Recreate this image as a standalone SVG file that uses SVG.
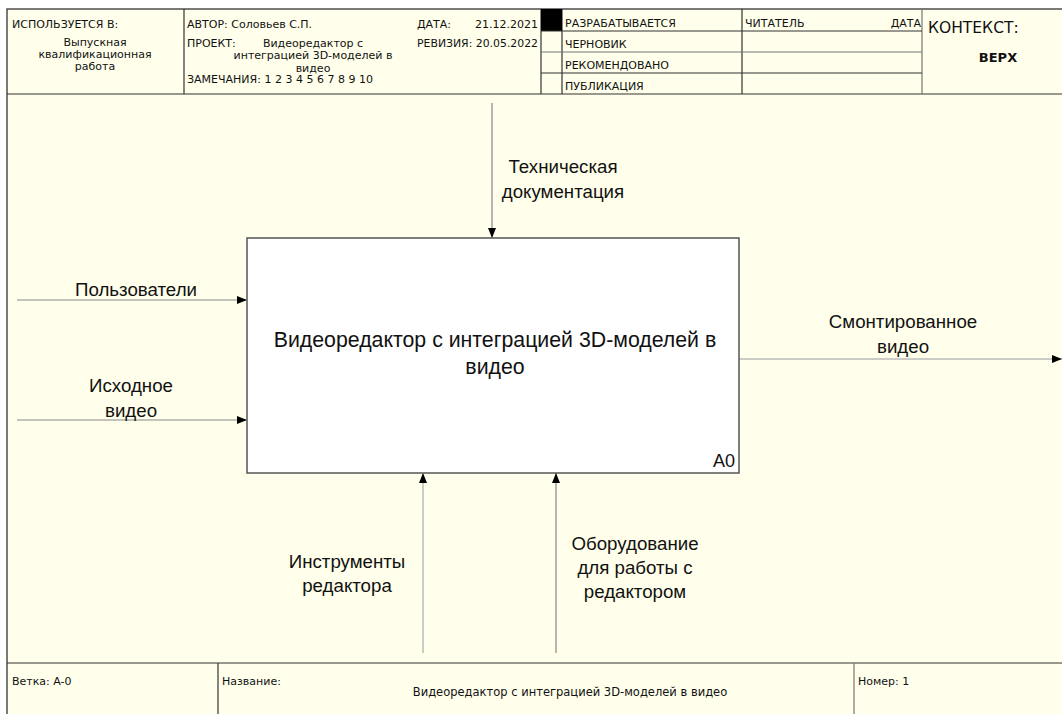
<svg xmlns="http://www.w3.org/2000/svg" width="1062" height="714" viewBox="0 0 1062 714">
<defs>
<style>
.frame{fill:#FFFFEB;stroke:#333;stroke-width:1.3}
.thin{stroke:#333;stroke-width:1.2}
.gl{stroke:#777;stroke-width:1.2}
.ht{font-family:"DejaVu Sans",sans-serif;font-size:11px;fill:#111}
.lbl{font-family:"Liberation Sans",Arial,sans-serif;font-size:18.7px;fill:#111}
.conn{stroke:#888;stroke-width:1.2;fill:none}
.connl{stroke:#bbb;stroke-width:1.5;fill:none}
</style>
<marker id="ah" viewBox="0 0 10 8" refX="10" refY="4" markerWidth="10" markerHeight="8" markerUnits="userSpaceOnUse" orient="auto">
<path d="M0,0 L10,4 L0,8 z" fill="#000"/>
</marker>
</defs>
<rect x="0" y="0" width="1062" height="714" fill="#fff"/>
<rect x="7" y="9" width="1070" height="720" class="frame"/>

<g id="header">
<line x1="7" y1="94" x2="1070" y2="94" class="thin"/>
<line x1="184" y1="9" x2="184" y2="94" class="thin"/>
<line x1="541" y1="9" x2="541" y2="94" class="thin"/>
<line x1="562" y1="9" x2="562" y2="94" class="thin"/>
<line x1="742" y1="9" x2="742" y2="94" class="thin"/>
<line x1="922" y1="9" x2="922" y2="94" class="gl"/>
<rect x="541" y="9" width="21" height="22" fill="#000"/>
<line x1="541" y1="31" x2="922" y2="31" class="thin"/>
<line x1="541" y1="52" x2="922" y2="52" class="gl"/>
<line x1="541" y1="73" x2="922" y2="73" class="thin"/>
<text x="12" y="28" class="ht">ИСПОЛЬЗУЕТСЯ В:</text>
<text x="95" y="46" class="ht" text-anchor="middle">Выпускная</text>
<text x="95" y="58" class="ht" text-anchor="middle">квалификационная</text>
<text x="95" y="70" class="ht" text-anchor="middle">работа</text>
<text x="187" y="28" class="ht">АВТОР: Соловьев С.П.</text>
<text x="187" y="47" class="ht">ПРОЕКТ:</text>
<text x="313" y="47" class="ht" text-anchor="middle">Видеоредактор с</text>
<text x="313" y="59" class="ht" text-anchor="middle">интеграцией 3D-моделей в</text>
<text x="313" y="72" class="ht" text-anchor="middle">видео</text>
<text x="187" y="83" class="ht">ЗАМЕЧАНИЯ: 1 2 3 4 5 6 7 8 9 10</text>
<text x="417" y="28" class="ht">ДАТА:</text>
<text x="538" y="28" class="ht" text-anchor="end">21.12.2021</text>
<text x="417" y="47" class="ht" textLength="121" lengthAdjust="spacingAndGlyphs">РЕВИЗИЯ: 20.05.2022</text>
<text x="565" y="27" class="ht">РАЗРАБАТЫВАЕТСЯ</text>
<text x="565" y="48" class="ht">ЧЕРНОВИК</text>
<text x="565" y="69" class="ht">РЕКОМЕНДОВАНО</text>
<text x="565" y="90" class="ht">ПУБЛИКАЦИЯ</text>
<text x="745" y="27" class="ht">ЧИТАТЕЛЬ</text>
<text x="921" y="27" class="ht" text-anchor="end">ДАТА</text>
<text x="928" y="33" font-family="DejaVu Sans,sans-serif" font-size="15.5" fill="#111">КОНТЕКСТ:</text>
<text x="998" y="62" font-family="DejaVu Sans,sans-serif" font-size="13" font-weight="bold" fill="#111" text-anchor="middle">ВЕРХ</text>
</g>

<g id="footer">
<line x1="7" y1="663" x2="1070" y2="663" class="thin"/>
<line x1="218" y1="663" x2="218" y2="720" class="thin"/>
<line x1="854" y1="663" x2="854" y2="720" class="gl"/>
<text x="12" y="685" class="ht">Ветка: A-0</text>
<text x="222" y="685" class="ht">Название:</text>
<text x="570" y="696" class="ht" text-anchor="middle" style="font-size:11.5px">Видеоредактор с интеграцией 3D-моделей в видео</text>
<text x="858" y="685" class="ht">Номер: 1</text>
</g>

<g id="connectors">
<line x1="492" y1="103" x2="492" y2="238" class="conn" marker-end="url(#ah)"/>
<line x1="17" y1="300" x2="247" y2="300" class="conn" marker-end="url(#ah)"/>
<line x1="17" y1="420" x2="247" y2="420" class="conn" marker-end="url(#ah)"/>
<line x1="739" y1="359" x2="1062" y2="359" class="connl" marker-end="url(#ah)"/>
<line x1="423" y1="653" x2="423" y2="473" class="connl" marker-end="url(#ah)"/>
<line x1="556" y1="653" x2="556" y2="473" class="conn" marker-end="url(#ah)"/>
<text x="563" y="173" class="lbl" text-anchor="middle">Техническая</text>
<text x="563" y="198" class="lbl" text-anchor="middle">документация</text>
<text x="136" y="296" class="lbl" text-anchor="middle">Пользователи</text>
<text x="131" y="392" class="lbl" text-anchor="middle">Исходное</text>
<text x="131" y="417" class="lbl" text-anchor="middle">видео</text>
<text x="903" y="328" class="lbl" text-anchor="middle">Смонтированное</text>
<text x="903" y="353" class="lbl" text-anchor="middle">видео</text>
<text x="347" y="568" class="lbl" text-anchor="middle">Инструменты</text>
<text x="347" y="592" class="lbl" text-anchor="middle">редактора</text>
<text x="635" y="550" class="lbl" text-anchor="middle">Оборудование</text>
<text x="635" y="574" class="lbl" text-anchor="middle">для работы с</text>
<text x="635" y="598" class="lbl" text-anchor="middle">редактором</text>
</g>

<g id="A0">
<rect x="247" y="238" width="492" height="235" fill="#fff" stroke="#555" stroke-width="1.5"/>
<text x="495" y="347" font-family="Liberation Sans,Arial,sans-serif" font-size="21.3" fill="#111" text-anchor="middle">Видеоредактор с интеграцией 3D-моделей в</text>
<text x="495" y="374" font-family="Liberation Sans,Arial,sans-serif" font-size="21.3" fill="#111" text-anchor="middle">видео</text>
<text x="735" y="467" font-family="Liberation Sans,Arial,sans-serif" font-size="18" fill="#111" text-anchor="end">A0</text>
</g>
</svg>
